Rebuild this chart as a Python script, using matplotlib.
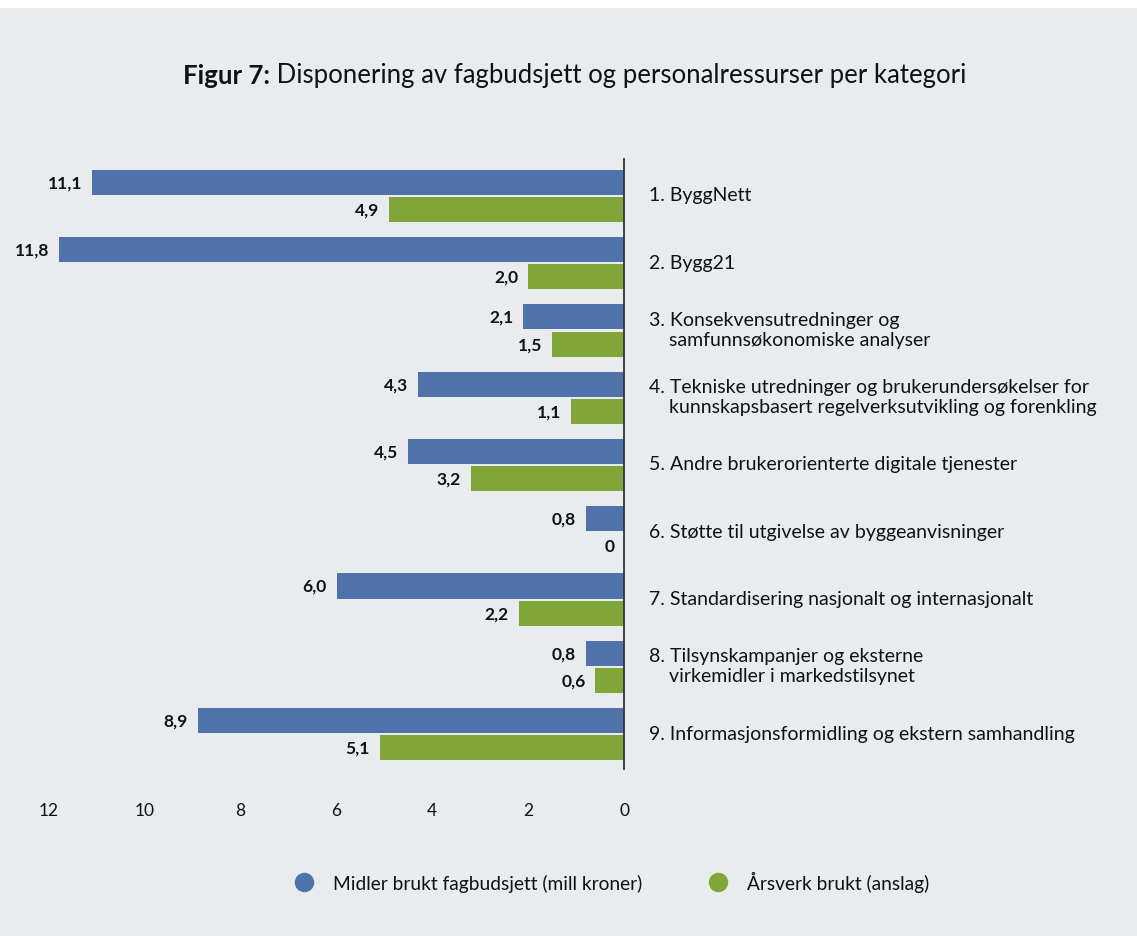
import matplotlib.pyplot as plt
from matplotlib.patches import Rectangle
from matplotlib.lines import Line2D

plt.rcParams['font.family'] = ['Lato', 'DejaVu Sans']

# data
categories = [
    "1. ByggNett",
    "2. Bygg21",
    "3. Konsekvensutredninger og\n    samfunnsøkonomiske analyser",
    "4. Tekniske utredninger og brukerundersøkelser for\n    kunnskapsbasert regelverksutvikling og forenkling",
    "5. Andre brukerorienterte digitale tjenester",
    "6. Støtte til utgivelse av byggeanvisninger",
    "7. Standardisering nasjonalt og internasjonalt",
    "8. Tilsynskampanjer og eksterne\n    virkemidler i markedstilsynet",
    "9. Informasjonsformidling og ekstern samhandling",
]
midler = [11.1, 11.8, 2.1, 4.3, 4.5, 0.8, 6.0, 0.8, 8.9]
aarsverk = [4.9, 2.0, 1.5, 1.1, 3.2, 0, 2.2, 0.6, 5.1]
midler_txt = ["11,1", "11,8", "2,1", "4,3", "4,5", "0,8", "6,0", "0,8", "8,9"]
aarsverk_txt = ["4,9", "2,0", "1,5", "1,1", "3,2", "0", "2,2", "0,6", "5,1"]
xticks = [12, 10, 8, 6, 4, 2, 0]
legend_labels = ["Midler brukt fagbudsjett (mill kroner)", "Årsverk brukt (anslag)"]

blue = "#5072aa"
green = "#80a63a"
bg = "#e8ecef"

W, H = 1137, 937
fig = plt.figure(figsize=(W / 100, H / 100), dpi=100, facecolor="white")
fig.patches.append(Rectangle((0, 0), 1, 1 - 9 / H, transform=fig.transFigure,
                             facecolor=bg, edgecolor="none", zorder=-10))

ax = fig.add_axes([49 / W, 1 - 770 / H, (624 - 49) / W, (770 - 160) / H])
ax.set_facecolor("none")

ypos = list(range(len(categories)))
ax.barh([y - 0.186 for y in ypos], midler, height=0.372, color=blue)
ax.barh([y + 0.216 for y in ypos], aarsverk, height=0.372, color=green)

for y, v, t in zip(ypos, midler, midler_txt):
    ax.annotate(t, (v, y - 0.186), xytext=(-7, 0), textcoords="offset points",
                ha="right", va="center", fontsize=12.5, fontweight="bold", color="#111111")
for y, v, t in zip(ypos, aarsverk, aarsverk_txt):
    ax.annotate(t, (v, y + 0.216), xytext=(-7, 0), textcoords="offset points",
                ha="right", va="center", fontsize=12.5, fontweight="bold", color="#111111")

for y, c in zip(ypos, categories):
    ax.annotate(c, (0, y + 0.0), xytext=(18, 0), textcoords="offset points",
                ha="left", va="center", fontsize=14, color="#111111",
                linespacing=1.2, annotation_clip=False)

ax.set_xlim(12, 0)
ax.set_ylim(8.535, -0.535)
ax.set_xticks(xticks)
ax.set_xticklabels([str(t) for t in xticks], fontsize=12.5, color="#111111")
ax.tick_params(axis="x", length=0, pad=24)
ax.set_yticks([])
for s in ["top", "left", "bottom"]:
    ax.spines[s].set_visible(False)
ax.spines["right"].set_color("#333333")
ax.spines["right"].set_linewidth(1.3)

# title: bold prefix + normal rest, centered together
renderer = fig.canvas.get_renderer()
ty = 1 - 76 / H
t1 = fig.text(0, ty, "Figur 7:", fontsize=18.5, fontweight="bold", va="center", color="#111111")
t2 = fig.text(0, ty, " Disponering av fagbudsjett og personalressurser per kategori",
              fontsize=18.5, va="center", color="#111111")
w1 = t1.get_window_extent(renderer).width
w2 = t2.get_window_extent(renderer).width
x0 = 575 - (w1 + w2) / 2
t1.set_x(x0 / W)
t2.set_x((x0 + w1) / W)

handles = [Line2D([], [], marker="o", linestyle="none", markersize=13,
                  markerfacecolor=c, markeredgecolor=c) for c in (blue, green)]
fig.legend(handles, legend_labels, loc="center", bbox_to_anchor=(607 / W, 1 - 882 / H),
           ncol=2, frameon=False, fontsize=13.8, columnspacing=3.0, handletextpad=0.5,
           labelcolor="#111111")

fig.savefig("out.png", dpi=100, facecolor=fig.get_facecolor())
